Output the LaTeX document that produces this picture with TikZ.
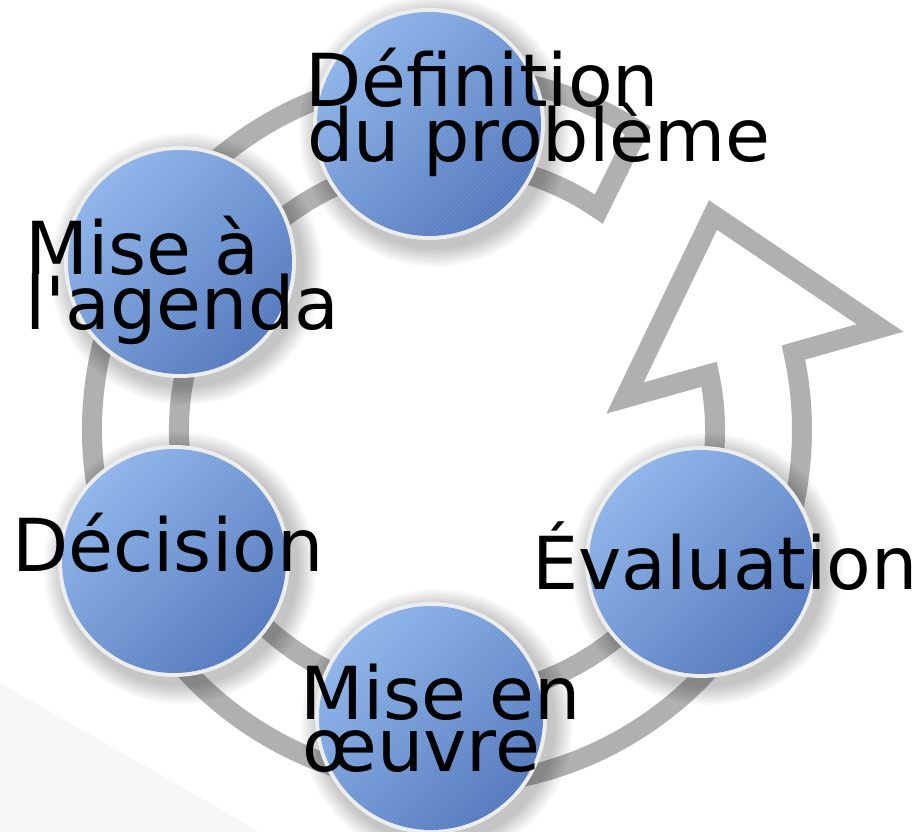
\documentclass[tikz,border=0pt]{standalone}
\usepackage{fontspec}
\setmainfont{DejaVu Sans}[Ligatures=TeXOff]
\usetikzlibrary{patterns}
\definecolor{ringgray}{HTML}{B0B0B0}
\definecolor{blueA}{HTML}{8DB4EA}
\definecolor{blueB}{HTML}{5479BE}
\definecolor{rimcol}{HTML}{EDEDED}
\definecolor{bgtri}{HTML}{F7F7F7}
\tikzset{
  ring/.style={draw=ringgray, line width=15pt, line join=miter},
  stage/.style={circle, minimum size=174pt, inner sep=0pt, fill=rimcol},
  shadowstep/.style={fill=black, opacity=0.022},
  bluefill/.style={top color=blueA, bottom color=blueB, shading angle=45},
  hatch/.style={pattern=north east lines, pattern color=white, opacity=0.12},
  lbl/.style={font=\fontsize{54.8}{41}\selectfont, inner sep=0pt, text=black, anchor=base west}
}
\begin{document}
\begin{tikzpicture}[x=0.75pt, y=0.75pt]
\useasboundingbox (0,0) rectangle (922,832);
\fill[white] (0,0) rectangle (922,832);
\fill[bgtri] (0,149) -- (260,0) -- (0,0) -- cycle;
% ring with arrow
\draw[ring] ([shift={(447,402)}]57.5:355) arc[start angle=57.5, end angle=372.6, radius=355]
  -- (880,504) -- (713,617) -- (625,434)
  -- ([shift={(447,402)}]12:268) arc[start angle=12, end angle=-304.5, radius=268] -- cycle;
% stage positions
\coordinate (p1) at (429,708);
\coordinate (p2) at (180,570);
\coordinate (p3) at (174,271);
\coordinate (p4) at (431,114);
\coordinate (p5) at (701,270);
% soft shadows
\foreach \p in {p1,p2,p3,p4,p5}{
  \foreach \i in {0,...,9}{
    \fill[shadowstep] ([shift={(6,-7)}]\p) circle[radius=136-2*\i];
  }
}
% stages
\node[stage] (c1) at (p1) {};
\node[stage] (c2) at (p2) {};
\node[stage] (c3) at (p3) {};
\node[stage] (c4) at (p4) {};
\node[stage] (c5) at (p5) {};
\foreach \c in {c1,c2,c3,c4,c5}{
  \shade[bluefill] (\c.center) circle[radius=112];
  \fill[hatch] (\c.center) circle[radius=112];
}
% labels
\node[lbl] (l1a) at (305,725) {Définition};
\node[lbl] (l1b) at (307,670) {du problème};
\node[lbl] (l2a) at (25,557) {Mise à};
\node[lbl] (l2b) at (25,502) {l'agenda};
\node[lbl] (l3) at (12,260) {Décision};
\node[lbl] (l5) at (532,242) {Évaluation};
\node[lbl] (l4a) at (300,112) {Mise en};
\node[lbl] (l4b) at (302,60) {œuvre};
\end{tikzpicture}
\end{document}
